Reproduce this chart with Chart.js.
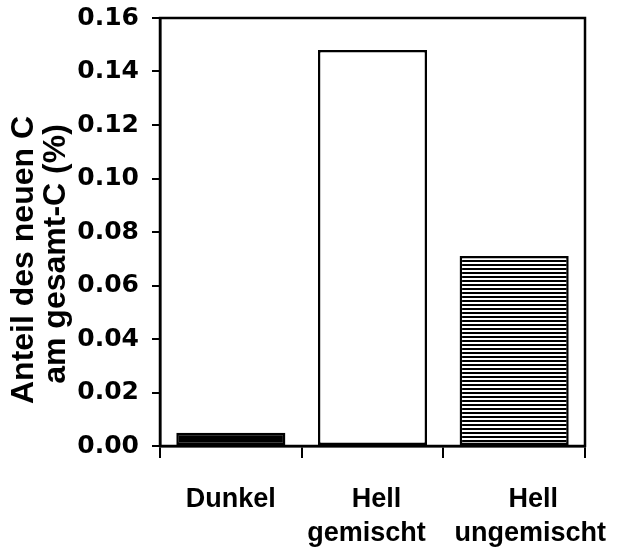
<!DOCTYPE html>
<html>
<head>
<meta charset="utf-8">
<script src="https://cdn.jsdelivr.net/npm/chart.js@4"></script>
<style>
  html, body { margin: 0; padding: 0; background: #fff; }
  #wrap { width: 622px; height: 556px; }
</style>
</head>
<body>
<div id="wrap"><canvas id="c" width="622" height="556"></canvas></div>
<script>
const categories = [['Dunkel'], ['Hell', 'gemischt'], ['Hell', 'ungemischt']];
const values = [0.005, 0.148, 0.071];
const yTickValues = [0.00, 0.02, 0.04, 0.06, 0.08, 0.10, 0.12, 0.14, 0.16];
const yTitleLines = ['Anteil des neuen C', 'am gesamt-C (%)'];

const FONT = "'Liberation Sans', Arial, Helvetica, sans-serif";
const TICKFONT = "'DejaVu Sans', 'Liberation Sans', sans-serif";

// horizontal offsets of each label line relative to its category centre
const labelShift = [[0], [4, -6], [19, 16]];

function stripePattern() {
  const c = document.createElement('canvas');
  c.width = 8; c.height = 4;
  const g = c.getContext('2d');
  g.fillStyle = '#fff'; g.fillRect(0, 0, 8, 4);
  g.fillStyle = '#000'; g.fillRect(0, 0, 8, 2);
  return g.createPattern(c, 'repeat');
}
const ctx0 = document.getElementById('c').getContext('2d');
const fills = ['#000', '#fff', stripePattern()];

const framePlugin = {
  id: 'frame',
  afterDatasetsDraw(chart) {
    const a = chart.chartArea, ctx = chart.ctx;
    ctx.save();
    ctx.strokeStyle = '#000';
    ctx.lineWidth = 2.5;
    ctx.strokeRect(a.left, a.top, a.right - a.left, a.bottom - a.top);
    ctx.restore();
  }
};

const textPlugin = {
  id: 'texts',
  afterDraw(chart) {
    const a = chart.chartArea, ctx = chart.ctx;
    const cyBase = (a.top + a.bottom) / 2;
    ctx.save();
    ctx.fillStyle = '#000';
    // y-axis title (two rotated lines)
    ctx.font = "bold 32px " + FONT;
    ctx.textAlign = 'center';
    ctx.textBaseline = 'alphabetic';
    const baseX = [33, 65];
    const dy = [28, 22];
    yTitleLines.forEach((t, i) => {
      ctx.save();
      ctx.translate(baseX[i], cyBase + dy[i]);
      ctx.rotate(-Math.PI / 2);
      ctx.fillText(t, 0, 0);
      ctx.restore();
    });
    // x category labels
    const xs = chart.scales.x;
    ctx.font = "bold 27px " + FONT;
    const baseY = [a.bottom + 61, a.bottom + 95];
    categories.forEach((lines, i) => {
      const cx = xs.getPixelForValue(i);
      lines.forEach((t, j) => {
        ctx.fillText(t, cx + labelShift[i][j], baseY[j]);
      });
    });
    ctx.restore();
  }
};

new Chart(ctx0, {
  type: 'bar',
  data: {
    labels: categories,
    datasets: [{
      data: values,
      backgroundColor: fills,
      borderColor: '#000',
      borderWidth: 2.5,
      borderSkipped: false,
      categoryPercentage: 1.0,
      barPercentage: 0.77
    }]
  },
  options: {
    responsive: false,
    animation: false,
    devicePixelRatio: 1,
    layout: { padding: { left: 0, top: 18, right: 37, bottom: 0 } },
    plugins: { legend: { display: false }, tooltip: { enabled: false } },
    scales: {
      x: {
        grid: { offset: true, drawOnChartArea: false, drawTicks: true, tickLength: 12, color: '#000', lineWidth: 2 },
        border: { display: true, color: '#000', width: 2.5 },
        ticks: { display: false },
        afterFit(s) { s.height = 110; s.paddingLeft = 0; s.paddingRight = 0; }
      },
      y: {
        min: 0, max: 0.16,
        afterBuildTicks(s) { s.ticks = yTickValues.map(v => ({ value: v })); },
        grid: { drawOnChartArea: false, drawTicks: true, tickLength: 8, color: '#000', lineWidth: 2 },
        border: { display: true, color: '#000', width: 2.5 },
        ticks: { color: '#000', font: { family: TICKFONT, weight: 'bold', size: 25 }, padding: 13,
                 callback: (v) => Number(v).toFixed(2) },
        afterFit(s) { s.width = 160; s.paddingTop = 0; s.paddingBottom = 0; }
      }
    }
  },
  plugins: [framePlugin, textPlugin]
});
</script>
</body>
</html>
